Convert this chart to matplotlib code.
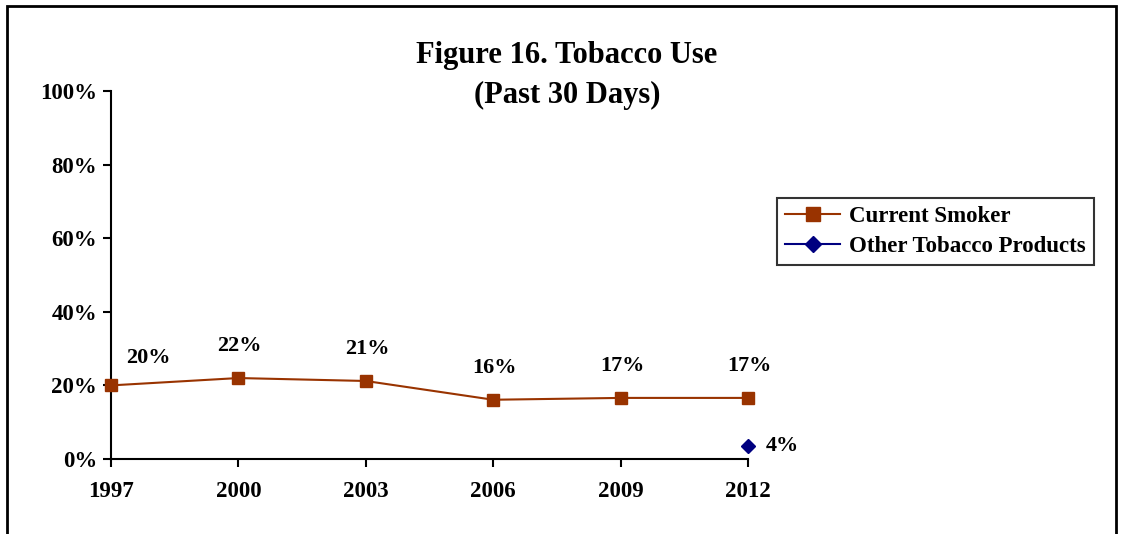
import matplotlib
matplotlib.use("Agg")
import matplotlib.pyplot as plt
from matplotlib.patches import Rectangle

years = [1997, 2000, 2003, 2006, 2009, 2012]
smoker = [20.0, 22.0, 21.2, 16.1, 16.6, 16.6]
smoker_labels = ["20%", "22%", "21%", "16%", "17%", "17%"]
other_years = [2012]
other = [3.6]
other_labels = ["4%"]
yticks = [0, 20, 40, 60, 80, 100]
ytick_labels = ["0%", "20%", "40%", "60%", "80%", "100%"]

plt.rcParams['font.family'] = ['Liberation Serif', 'DejaVu Serif']
plt.rcParams['font.weight'] = 'bold'

W, H = 1121, 534
fig = plt.figure(figsize=(W / 100, H / 100), dpi=100)
ax = fig.add_axes([111 / W, 1 - 459 / H, (748 - 111) / W, (459 - 91) / H])

red = '#993300'
navy = '#000080'
ax.plot(years, smoker, color=red, lw=1.5, marker='s', ms=9, mfc=red, mec=red,
        label='Current Smoker', clip_on=False, zorder=3)
ax.plot(other_years, other, color=navy, lw=1.5, marker='D', ms=7, mfc=navy, mec=navy,
        label='Other Tobacco Products', clip_on=False, zorder=3)

for i, (x, y, t) in enumerate(zip(years, smoker, smoker_labels)):
    dx = 27 if i == 0 else 1
    dy = 20 if i == 0 else 23
    ax.annotate(t, (x, y), xytext=(dx, dy), textcoords='offset points', ha='center',
                va='center', fontsize=16, fontweight='bold')
for x, y, t in zip(other_years, other, other_labels):
    ax.annotate(t, (x, y), xytext=(13, 0), textcoords='offset points', ha='left',
                va='center', fontsize=16, fontweight='bold')

ax.set_xlim(1997, 2012)
ax.set_ylim(0, 100)
ax.set_xticks(years)
ax.set_xticklabels([str(y) for y in years], fontsize=16.5, fontweight='bold')
ax.set_yticks(yticks)
ax.set_yticklabels(ytick_labels, fontsize=16.5, fontweight='bold')
for s in ['top', 'right']:
    ax.spines[s].set_visible(False)
for s in ['left', 'bottom']:
    ax.spines[s].set_linewidth(1.5)
ax.tick_params(axis='y', direction='out', length=6, width=1.5, pad=4)
ax.tick_params(axis='x', direction='out', length=6, width=1.5, pad=10)

fig.text(567 / W, 1 - 55 / H, "Figure 16. Tobacco Use", ha='center', va='center',
         fontsize=22, fontweight='bold')
fig.text(567 / W, 1 - 95 / H, "(Past 30 Days)", ha='center', va='center',
         fontsize=22, fontweight='bold')

leg = fig.legend(loc='upper left', bbox_to_anchor=(777 / W, 1 - 198 / H),
                 frameon=True, fancybox=False, edgecolor='black',
                 prop={'weight': 'bold', 'size': 16.5}, handlelength=2.4,
                 borderpad=0.35, labelspacing=0.4, handletextpad=0.4, borderaxespad=0,
                 markerscale=1.15)
leg.get_frame().set_linewidth(1.5)

fig.patches.append(Rectangle((7 / W, -0.1), (1116 - 7) / W, 1.1 - 6 / H,
                             transform=fig.transFigure, fill=False,
                             edgecolor='black', lw=2))

fig.savefig('out.png', dpi=100)
